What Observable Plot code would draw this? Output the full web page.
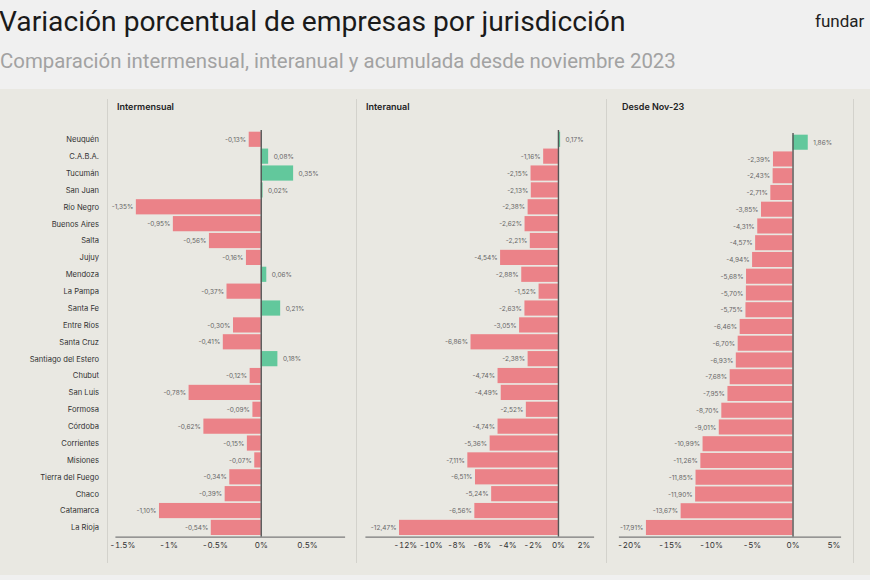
<!DOCTYPE html>
<html><head><meta charset="utf-8">
<script src="https://cdn.jsdelivr.net/npm/d3@7"></script>
<script src="https://cdn.jsdelivr.net/npm/@observablehq/plot@0.6"></script>
<style>
body{margin:0;background:#f0f0f0;}
#root{position:relative;width:870px;height:580px;overflow:hidden;background:#f0f0f0;font-family:Roboto, sans-serif;}
#title{position:absolute;left:-1px;top:5px;font-size:28.2px;color:#1a1a1a;white-space:nowrap;}
#subtitle{position:absolute;left:0;top:49px;font-size:20.4px;color:#a2a2a2;white-space:nowrap;}
#brand{position:absolute;left:815px;top:11px;font-size:17px;color:#222;}
#panel{position:absolute;left:0;top:89px;width:870px;height:486px;background:#e9e8e2;}
.divl{position:absolute;top:99px;width:1px;height:464px;background:#d3d2cc;}
.ptitle{position:absolute;top:101px;font-family:Inter, sans-serif;font-weight:600;font-size:9px;color:#222;}
.plot{position:absolute;top:0;}
</style>
</head><body>
<div id="root">
  <div id="title">Variación porcentual de empresas por jurisdicción</div>
  <div id="subtitle">Comparación intermensual, interanual y acumulada desde noviembre 2023</div>
  <div id="brand">fundar</div>
  <div id="panel"></div>
  <div class="divl" style="left:107px"></div>
  <div class="divl" style="left:356px"></div>
  <div class="divl" style="left:606px"></div>
  <div class="divl" style="left:853px"></div>
  <div class="ptitle" style="left:117px">Intermensual</div>
  <div class="ptitle" style="left:366px">Interanual</div>
  <div class="ptitle" style="left:622px">Desde Nov-23</div>
  <div id="p1" class="plot" style="left:0px"></div>
  <div id="p2" class="plot" style="left:350px"></div>
  <div id="p3" class="plot" style="left:610px"></div>
</div>
<script>
const provinces = ["Neuquén","C.A.B.A.","Tucumán","San Juan","Río Negro","Buenos Aires","Salta","Jujuy","Mendoza","La Pampa","Santa Fe","Entre Ríos","Santa Cruz","Santiago del Estero","Chubut","San Luis","Formosa","Córdoba","Corrientes","Misiones","Tierra del Fuego","Chaco","Catamarca","La Rioja"];
const intermensual = [-0.13,0.08,0.35,0.02,-1.35,-0.95,-0.56,-0.16,0.06,-0.37,0.21,-0.30,-0.41,0.18,-0.12,-0.78,-0.09,-0.62,-0.15,-0.07,-0.34,-0.39,-1.10,-0.54];
const interanual = [0.17,-1.16,-2.15,-2.13,-2.38,-2.62,-2.21,-4.54,-2.88,-1.52,-2.63,-3.05,-6.86,-2.38,-4.74,-4.49,-2.52,-4.74,-5.36,-7.11,-6.51,-5.24,-6.56,-12.47];
const desdeNov23 = [1.86,-2.39,-2.43,-2.71,-3.85,-4.31,-4.57,-4.94,-5.68,-5.70,-5.75,-6.46,-6.70,-6.93,-7.68,-7.95,-8.70,-9.01,-10.99,-11.26,-11.85,-11.90,-13.67,-17.91];
const ticks1 = [-1.5,-1,-0.5,0,0.5];
const ticks2 = [-12,-10,-8,-6,-4,-2,0,2];
const ticks3 = [-20,-15,-10,-5,0,5];

const NEG = "#eb8288", POS = "#62c89c";
const fmt = v => v.toFixed(2).replace(".", ",") + "%";

function panel(values, {width, domain, ticks, mLeft, mRight, mTop, yAxis}) {
  const data = values.map((v, i) => ({name: provinces[i], v}));
  const marks = [
    Plot.barX(data, {x: "v", y: "name", fill: d => d.v < 0 ? NEG : POS}),
    Plot.ruleX([0], {stroke: "#555", strokeWidth: 1.4}),
    Plot.text(data.filter(d => d.v < 0), {x: "v", y: "name", text: d => fmt(d.v), textAnchor: "end", dx: -3, fill: "#666", fontSize: 6.5}),
    Plot.text(data.filter(d => d.v >= 0), {x: "v", y: "name", text: d => fmt(d.v), textAnchor: "start", dx: 5, fill: "#666", fontSize: 6.5}),
    Plot.frame({anchor: "bottom", stroke: "#7a7a7a", strokeWidth: 1.2}),
    Plot.axisX({ticks, tickSize: 0, tickPadding: 5, tickFormat: d => `${d}%`, fontSize: 8, fill: "#333"})
  ];
  if (yAxis) marks.push(Plot.axisY({tickSize: 0, tickPadding: 17, fontSize: 7.6, fill: "#333"}));
  else marks.push(Plot.axisY({ticks: []}));
  return Plot.plot({
    width, height: 580,
    marginLeft: mLeft, marginRight: mRight, marginTop: mTop, marginBottom: 43.3,
    style: {background: "transparent", fontFamily: "Inter, sans-serif", color: "#333"},
    x: {domain, label: null},
    y: {domain: provinces, padding: 0.1, round: false, label: null},
    marks
  });
}

document.getElementById("p1").append(panel(intermensual, {width: 350, domain: [-1.57, 0.9], ticks: ticks1, mLeft: 115.5, mRight: 6, mTop: 130, yAxis: true}));
document.getElementById("p2").append(panel(interanual, {width: 260, domain: [-15.1, 2.75], ticks: ticks2, mLeft: 15.5, mRight: 17, mTop: 130, yAxis: false}));
document.getElementById("p3").append(panel(desdeNov23, {width: 260, domain: [-21.2, 5.8], ticks: ticks3, mLeft: 9, mRight: 30, mTop: 133, yAxis: false}));
</script>
</body></html>
